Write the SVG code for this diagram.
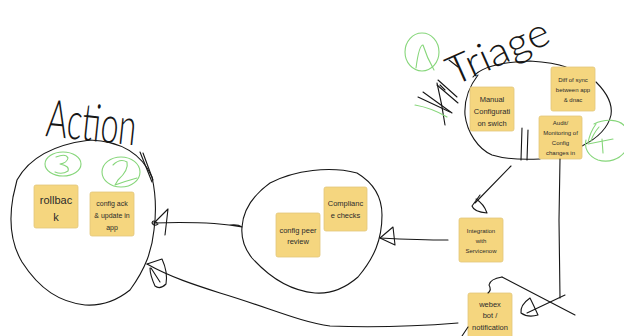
<svg xmlns="http://www.w3.org/2000/svg" width="624" height="336" viewBox="0 0 624 336">
  <style>
    .ink { fill: none; stroke: #161616; stroke-width: 1.1; stroke-linecap: round; stroke-linejoin: round; }
    .green { fill: none; stroke: #86d67a; stroke-width: 1.1; stroke-linecap: round; stroke-linejoin: round; }
    .note { fill: #f5d67f; stroke: #e2c77c; stroke-width: 0.8; }
    .nt { font-family: "Liberation Sans", Arial, sans-serif; fill: #2b2b2b; text-anchor: middle; }
    .hand { font-family: Lato, Inter, "DejaVu Sans", sans-serif; font-weight: 300; fill: #161616; }
  </style>
  <rect width="624" height="336" fill="#ffffff"/>

  <!-- handwritten titles -->
  <text class="hand" x="45" y="136" font-size="52" textLength="90" lengthAdjust="spacingAndGlyphs" transform="rotate(6 45 136)">Action</text>
  <text class="hand" x="454" y="86" font-size="40" textLength="108" lengthAdjust="spacingAndGlyphs" transform="rotate(-24 454 86)">Triage</text>

  <!-- hatch marks beside the Triage group -->
  <g id="hatch">
    <path class="ink" d="M438,80 L457,97"/>
    <path class="ink" d="M437,85 L458,103"/>
    <path class="ink" d="M423,92 L452,113"/>
    <path class="ink" d="M418,97 L450,112"/>
    <path class="ink" d="M437,83 Q442,104 445,125"/>
    <path class="ink" d="M449,60 L458,67"/>
    <path class="ink" d="M440,85 L445,90"/>
    <path class="green" d="M415,105 Q432,108 447,117"/>
  </g>

  <!-- group outlines -->
  <g id="action-group">
    <path class="ink" d="M17,180 C28,160 50,145 90,140 C115,141 140,150 152,177 C156,195 156,215 154,230 C152,250 146,268 130,290 C115,302 100,306 85,305 C60,302 40,290 22,262 C12,245 8,225 13,197 Z"/>
    <path class="ink" d="M140,152 L152,182"/>
    <path class="ink" d="M143,153 L153,180"/>
  </g>
  <g id="review-group">
    <path class="ink" d="M242,227 C243,212 252,196 270,183 C295,170 330,166 357,173 C372,182 382,196 382,215 C382,240 374,258 358,277 C343,290 328,294 315,293 C292,291 270,278 252,258 C244,248 241,238 242,227 Z"/>
  </g>
  <g id="triage-group">
    <path class="ink" d="M473,77 C480,68 500,62 530,61 C545,62 558,64 566,67"/>
    <path class="ink" d="M596,82 C606,92 613,103 611,115 C608,128 598,138 582,146"/>
    <path class="ink" d="M478,75 C468,88 464,100 465,115 C467,132 478,149 492,155 C505,159 520,160 540,159"/>
    <path class="ink" d="M522,128 L521,160"/>
    <path class="ink" d="M528,130 L527,160"/>
  </g>

  <!-- numbered markers -->
  <g id="marker-1">
    <ellipse class="green" cx="422" cy="52" rx="17" ry="19"/>
    <path class="green" d="M416,68 Q419,45 423,45 Q427,58 434,70"/>
  </g>
  <g id="marker-2">
    <ellipse class="green" cx="121" cy="172" rx="19" ry="15"/>
    <path class="green" d="M113,165 Q120,158 127,162 Q129,170 118,180 L115,185 Q126,181 137,178"/>
  </g>
  <g id="marker-3">
    <ellipse class="green" cx="63" cy="164" rx="18" ry="12"/>
    <path class="green" d="M56,157 Q66,153 68,158 Q67,163 60,164 Q70,166 68,171 Q62,175 55,172"/>
  </g>
  <g id="marker-4">
    <path class="green" d="M594,124 C604,119 620,118 626,128 M626,150 C620,160 608,163 598,160 C588,156 584,148 586,140"/>
    <path class="green" d="M596,124 Q590,132 588,143"/>
    <path class="green" d="M599,127 Q593,134 591,141"/>
    <path class="green" d="M588,144 L613,139"/>
    <path class="green" d="M602,139 L603,153"/>
  </g>

  <!-- sticky notes -->
  <g id="rollback">
    <rect class="note" x="34" y="185" width="44" height="43" rx="2"/>
    <text class="nt" x="56" y="204" font-size="11">rollbac</text>
    <text class="nt" x="56" y="221" font-size="11">k</text>
  </g>
  <g id="config-ack">
    <rect class="note" x="90" y="192" width="44" height="44" rx="2"/>
    <text class="nt" x="112" y="206" font-size="7">config ack</text>
    <text class="nt" x="112" y="218" font-size="7">&amp; update in</text>
    <text class="nt" x="112" y="230" font-size="7">app</text>
  </g>
  <g id="config-peer-review">
    <rect class="note" x="276" y="213" width="44" height="44" rx="2"/>
    <text class="nt" x="298" y="233" font-size="7.5">config peer</text>
    <text class="nt" x="298" y="244" font-size="7.5">review</text>
  </g>
  <g id="compliance-checks">
    <rect class="note" x="324" y="187" width="43" height="44" rx="2"/>
    <text class="nt" x="345.5" y="206" font-size="7.5">Complianc</text>
    <text class="nt" x="345.5" y="218" font-size="7.5">e checks</text>
  </g>
  <g id="integration-servicenow">
    <rect class="note" x="459" y="218" width="44" height="44" rx="2"/>
    <text class="nt" x="481" y="233" font-size="6">Integration</text>
    <text class="nt" x="481" y="243" font-size="6">with</text>
    <text class="nt" x="481" y="253" font-size="6">Servicenow</text>
  </g>
  <g id="webex-bot">
    <rect class="note" x="468" y="293" width="44" height="48" rx="2"/>
    <text class="nt" x="490" y="307" font-size="7.5">webex</text>
    <text class="nt" x="490" y="318" font-size="7.5">bot /</text>
    <text class="nt" x="490" y="330" font-size="7.5">notification</text>
  </g>
  <g id="manual-config-switch">
    <rect class="note" x="470" y="87" width="44" height="44" rx="2"/>
    <text class="nt" x="492" y="102" font-size="7.5">Manual</text>
    <text class="nt" x="492" y="114" font-size="7.5">Configurati</text>
    <text class="nt" x="492" y="126" font-size="7.5">on swich</text>
  </g>
  <g id="diff-of-sync">
    <rect class="note" x="551" y="67" width="44" height="44" rx="2"/>
    <text class="nt" x="573" y="82" font-size="6">Diff of sync</text>
    <text class="nt" x="573" y="92" font-size="6">between app</text>
    <text class="nt" x="573" y="102" font-size="6">&amp; dnac</text>
  </g>
  <g id="audit-monitoring">
    <rect class="note" x="539" y="116" width="43" height="43" rx="2"/>
    <text class="nt" x="560.5" y="125" font-size="6">Audit/</text>
    <text class="nt" x="560.5" y="135" font-size="6">Monitoring of</text>
    <text class="nt" x="560.5" y="145" font-size="6">Config</text>
    <text class="nt" x="560.5" y="155" font-size="6">changes in</text>
  </g>

  <!-- connectors -->
  <g id="connectors">
    <!-- triage to servicenow -->
    <path class="ink" d="M511,166 L475,203"/>
    <path class="ink" d="M480,195 L472,206 Q474,212 487,213 Q484,204 476,199"/>
    <!-- servicenow to review group -->
    <path class="ink" d="M448,240 Q420,240 380,238"/>
    <path class="ink" d="M380,238 L393,227 L395,245 Z"/>
    <!-- review group to action group -->
    <path class="ink" d="M242,227 Q238,224 230,225 M242,227 C220,223 185,222 154,223"/>
    <path class="ink" d="M154,223 L168,209 L165,235 M157,223 Q153,219 152,223 Q154,227 158,224"/>
    <!-- audit down to webex -->
    <path class="ink" d="M560,159 L559,220 L560,298"/>
    <path class="ink" d="M565,295 L527,313"/>
    <path class="ink" d="M530,298 Q520,305 521,313 Q528,318 538,315 Q534,306 530,298"/>
    <path class="ink" d="M502,277 L575,315"/>
    <path class="ink" d="M502,277 Q490,279 489,285 Q492,290 488,293"/>
    <!-- webex back to action group -->
    <path class="ink" d="M458,323 C420,326 380,328 330,326 C300,322 270,308 220,293 C195,285 170,277 147,264"/>
    <path class="ink" d="M147,264 L162,259 Q168,272 166,284 Q160,290 155,286 Q150,275 150,268 M151,268 L160,282"/>
    <path class="ink" d="M468,327 L462,336"/>
  </g>
</svg>
